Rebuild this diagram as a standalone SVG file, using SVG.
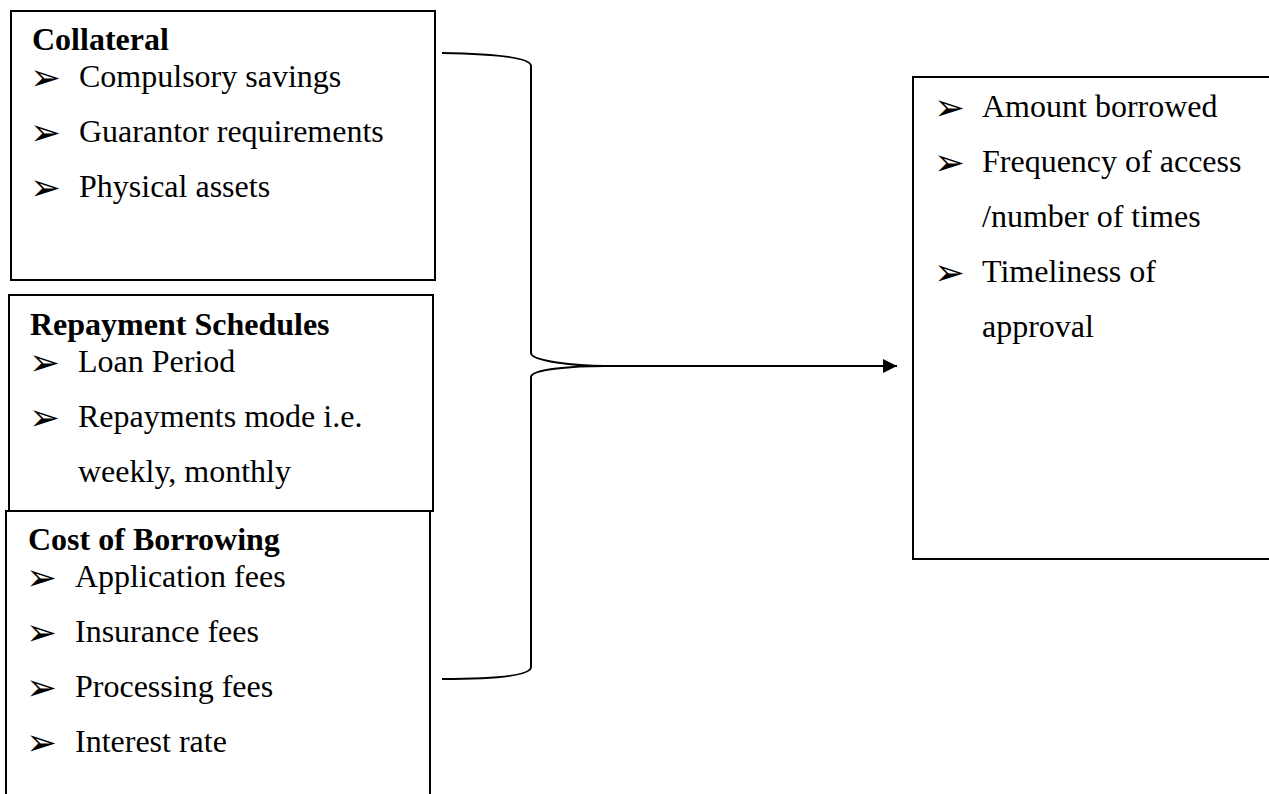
<svg xmlns="http://www.w3.org/2000/svg" width="1269" height="794" viewBox="0 0 1269 794">
<style>
.box{fill:#fff;stroke:#000;stroke-width:2}
.t{font-family:"Liberation Serif","Times New Roman",serif;font-size:32px;fill:#000}
.h{font-weight:bold}
.b{font-family:"DejaVu Sans",sans-serif;font-size:37px;fill:#000}
.c{fill:none;stroke:#000;stroke-width:2}
</style>
<defs>
<marker id="ah" viewBox="0 0 10 10" refX="10" refY="5" markerWidth="14" markerHeight="15" markerUnits="userSpaceOnUse" orient="auto">
<path d="M0,0 L10,5 L0,10 z" fill="#000"/>
</marker>
</defs>
<rect x="0" y="0" width="1269" height="794" fill="#fff"/>
<g id="node-collateral">
<rect class="box" x="11" y="11" width="424" height="269"/>
<text class="t h" x="32" y="50">Collateral</text>
<text class="b" x="30" y="90">➢</text><text class="t" x="79" y="87">Compulsory savings</text>
<text class="b" x="30" y="145">➢</text><text class="t" x="79" y="142">Guarantor requirements</text>
<text class="b" x="30" y="200">➢</text><text class="t" x="79" y="197">Physical assets</text>
</g>
<g id="node-repayment">
<rect class="box" x="9" y="295" width="424" height="216"/>
<text class="t h" x="30" y="335">Repayment Schedules</text>
<text class="b" x="29" y="375">➢</text><text class="t" x="78" y="372">Loan Period</text>
<text class="b" x="29" y="430">➢</text><text class="t" x="78" y="427">Repayments mode i.e.</text>
<text class="t" x="78" y="482">weekly, monthly</text>
</g>
<g id="node-cost">
<rect class="box" x="6" y="511" width="424" height="300"/>
<text class="t h" x="28" y="550">Cost of Borrowing</text>
<text class="b" x="26" y="590">➢</text><text class="t" x="75" y="587">Application fees</text>
<text class="b" x="26" y="645">➢</text><text class="t" x="75" y="642">Insurance fees</text>
<text class="b" x="26" y="700">➢</text><text class="t" x="75" y="697">Processing fees</text>
<text class="b" x="26" y="755">➢</text><text class="t" x="75" y="752">Interest rate</text>
</g>
<g id="node-outcome">
<rect class="box" x="913" y="77" width="370" height="482"/>
<text class="b" x="934" y="120">➢</text><text class="t" x="982" y="117">Amount borrowed</text>
<text class="b" x="934" y="175">➢</text><text class="t" x="982" y="172">Frequency of access</text>
<text class="t" x="982" y="227">/number of times</text>
<text class="b" x="934" y="285">➢</text><text class="t" x="982" y="282">Timeliness of</text>
<text class="t" x="982" y="337">approval</text>
</g>
<g id="connectors">
<path class="c" d="M442,53 C500,54 531,58 531,66 L531,353 C531,361 575,366 605,366 C575,366 531,369 531,377 L531,667 C531,675 500,679 442,679"/>
<path class="c" d="M603,366 L897,366" marker-end="url(#ah)"/>
</g>
</svg>
